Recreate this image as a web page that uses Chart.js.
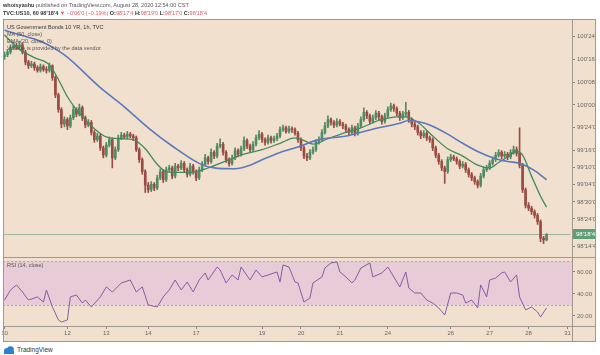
<!DOCTYPE html>
<html><head><meta charset="utf-8">
<script src="https://cdn.jsdelivr.net/npm/chart.js@4.4.1/dist/chart.umd.min.js"></script>
<style>
html,body{margin:0;padding:0;background:#fff;width:600px;height:355px;overflow:hidden;font-family:"Liberation Sans",Arial,sans-serif;}
#frame{position:absolute;left:3px;top:19px;width:593px;height:322px;background:#f2e0cf;}
canvas{position:absolute;}
.t{position:absolute;white-space:nowrap;font-size:5.5px;line-height:7px;color:#555;}
.ln{position:absolute;background:#a09890;}
.r{color:#e0575f;}
</style></head><body>
<div id="frame"></div>
<canvas id="c1" width="596" height="238" style="left:0;top:19px"></canvas>
<canvas id="c2" width="596" height="84" style="left:0;top:257px"></canvas>
<div class="ln" style="left:3px;top:19px;width:593px;height:1px"></div>
<div class="ln" style="left:3px;top:341px;width:593px;height:1px"></div>
<div class="ln" style="left:3px;top:19px;width:1px;height:323px"></div>
<div class="ln" style="left:595px;top:19px;width:1px;height:323px"></div>
<div class="ln" style="left:3px;top:257px;width:593px;height:1px"></div>
<div class="ln" style="left:3px;top:326px;width:593px;height:1px"></div>
<div class="ln" style="left:572px;top:19px;width:1px;height:323px"></div>

<div class="t" style="left:3px;top:2px"><b style="color:#333">whoisyashu</b> published on TradingView.com, August 28, 2020 12:54:00 CST</div>
<div class="t" style="left:3px;top:10px;color:#333"><b>TVC:US10, 60</b> <b>98'18'4</b> <span class="r">▼ −0'06'0 (−0.19%)</span> <b>O:</b><span class="r">98'17'4</span> <b>H:</b><span class="r">98'19'0</span> <b>L:</b><span class="r">98'17'0</span> <b>C:</b><span class="r">98'18'4</span></div>
<div class="t" style="left:7px;top:24px;color:#333">US Government Bonds 10 YR, 1h, TVC</div>
<div class="t" style="left:7px;top:31px">MA (50, close)</div>
<div class="t" style="left:7px;top:38px">EMA (20, close, 0)</div>
<div class="t" style="left:7px;top:45px">Volume is provided by the data vendor.</div>
<div class="t" style="left:7px;top:262px">RSI (14, close)</div>
<div style="position:absolute;left:3px;top:345px;height:9px;display:flex;align-items:center">
<svg width="12" height="8" viewBox="0 0 12 8"><circle cx="4" cy="5" r="3" fill="#2f7fd0"/><circle cx="7.5" cy="3.6" r="3.4" fill="#2f7fd0"/><rect x="1" y="5" width="10" height="3" fill="#2f7fd0"/></svg>
<span style="font-size:6.5px;color:#333;margin-left:2px">TradingView</span></div>

<script>
// ---------- data ----------
const open = [100.53,100.55,100.58,100.63,100.65,100.64,100.66,100.58,100.47,100.43,
100.45,100.41,100.38,100.42,100.39,100.38,100.43,100.30,100.11,99.95,
99.79,99.84,99.77,99.86,99.95,99.90,99.97,99.86,99.78,99.81,
99.70,99.62,99.66,99.53,99.45,99.56,99.62,99.42,99.51,99.64,
99.67,99.65,99.68,99.66,99.64,99.51,99.40,99.27,99.12,99.07,
99.13,99.09,99.20,99.27,99.18,99.29,99.31,99.22,99.33,99.31,
99.36,99.29,99.24,99.33,99.27,99.20,99.29,99.35,99.42,99.38,
99.48,99.44,99.55,99.57,99.48,99.40,99.36,99.42,99.50,99.46,
99.52,99.61,99.55,99.51,99.57,99.64,99.68,99.62,99.59,99.64,
99.61,99.63,99.66,99.73,99.75,99.71,99.74,99.73,99.69,99.62,
99.53,99.44,99.42,99.48,99.51,99.59,99.62,99.70,99.77,99.84,
99.81,99.78,99.82,99.79,99.77,99.73,99.70,99.75,99.69,99.77,
99.84,99.92,99.88,99.82,99.86,99.91,99.87,99.82,99.88,99.95,
99.99,99.96,99.91,99.86,99.90,99.92,99.84,99.79,99.76,99.70,
99.66,99.69,99.64,99.62,99.53,99.45,99.38,99.31,99.27,99.40,
99.43,99.41,99.38,99.33,99.35,99.29,99.24,99.20,99.16,99.12,
99.22,99.29,99.31,99.36,99.40,99.45,99.48,99.44,99.46,99.43,
99.48,99.51,99.47,99.34,99.07,98.90,98.87,98.83,98.79,98.72,
98.54,98.52];
const high = [100.58,100.61,100.66,100.69,100.68,100.70,100.68,100.60,100.49,100.48,
100.47,100.43,100.45,100.44,100.42,100.46,100.44,100.32,100.13,99.97,
99.87,99.86,99.89,99.99,99.97,100.01,99.99,99.88,99.84,99.83,
99.72,99.69,99.68,99.55,99.59,99.65,99.64,99.54,99.67,99.70,
99.69,99.71,99.70,99.68,99.66,99.53,99.42,99.29,99.15,99.16,
99.15,99.23,99.30,99.29,99.32,99.34,99.33,99.36,99.35,99.39,
99.38,99.31,99.36,99.35,99.29,99.32,99.38,99.46,99.44,99.52,
99.50,99.58,99.63,99.59,99.50,99.42,99.45,99.53,99.52,99.55,
99.65,99.63,99.57,99.60,99.67,99.72,99.70,99.64,99.67,99.66,
99.66,99.69,99.76,99.78,99.77,99.77,99.76,99.75,99.71,99.64,
99.55,99.47,99.51,99.54,99.62,99.65,99.73,99.81,99.88,99.86,
99.83,99.85,99.84,99.81,99.79,99.75,99.78,99.77,99.80,99.87,
99.97,99.94,99.90,99.89,99.94,99.93,99.89,99.91,99.98,100.02,
100.01,99.98,99.93,99.93,100.03,99.94,99.86,99.81,99.78,99.72,
99.72,99.71,99.66,99.64,99.55,99.47,99.40,99.33,99.43,99.46,
99.45,99.43,99.40,99.38,99.37,99.31,99.26,99.22,99.18,99.25,
99.32,99.34,99.39,99.43,99.48,99.51,99.50,99.49,99.48,99.51,
99.55,99.54,99.75,99.36,99.09,98.93,98.89,98.85,98.81,98.74,
98.56,98.59];
const low = [100.50,100.53,100.56,100.61,100.61,100.62,100.56,100.44,100.40,100.41,
100.38,100.36,100.36,100.37,100.35,100.36,100.27,100.08,99.92,99.75,
99.76,99.73,99.75,99.84,99.87,99.88,99.83,99.75,99.76,99.67,
99.59,99.60,99.50,99.42,99.43,99.54,99.31,99.40,99.49,99.62,
99.63,99.63,99.64,99.61,99.49,99.37,99.24,99.04,99.04,99.05,
99.06,99.07,99.18,99.15,99.16,99.27,99.19,99.20,99.28,99.29,
99.26,99.21,99.22,99.24,99.17,99.18,99.27,99.33,99.35,99.36,
99.41,99.42,99.53,99.45,99.37,99.33,99.34,99.40,99.43,99.44,
99.50,99.52,99.48,99.49,99.55,99.62,99.59,99.56,99.57,99.58,
99.59,99.61,99.64,99.71,99.69,99.69,99.70,99.67,99.59,99.50,
99.41,99.39,99.40,99.46,99.49,99.57,99.60,99.68,99.75,99.78,
99.75,99.76,99.77,99.74,99.70,99.67,99.68,99.66,99.67,99.75,
99.82,99.85,99.79,99.80,99.84,99.84,99.79,99.80,99.86,99.93,
99.93,99.88,99.83,99.84,99.87,99.81,99.76,99.73,99.67,99.63,
99.64,99.61,99.59,99.50,99.42,99.35,99.28,99.14,99.25,99.38,
99.39,99.35,99.30,99.31,99.26,99.21,99.17,99.13,99.09,99.10,
99.20,99.27,99.29,99.34,99.38,99.43,99.41,99.42,99.40,99.41,
99.46,99.44,99.31,99.04,98.87,98.84,98.80,98.76,98.69,98.50,
98.48,98.51];
const close = [100.55,100.58,100.63,100.65,100.64,100.66,100.58,100.47,100.43,100.45,
100.41,100.38,100.42,100.39,100.38,100.43,100.30,100.11,99.95,99.79,
99.84,99.77,99.86,99.95,99.90,99.97,99.86,99.78,99.81,99.70,
99.62,99.66,99.53,99.45,99.56,99.62,99.42,99.51,99.64,99.67,
99.65,99.68,99.66,99.64,99.51,99.40,99.27,99.12,99.07,99.13,
99.09,99.20,99.27,99.18,99.29,99.31,99.22,99.33,99.31,99.36,
99.29,99.24,99.33,99.27,99.20,99.29,99.35,99.42,99.38,99.48,
99.44,99.55,99.57,99.48,99.40,99.36,99.42,99.50,99.46,99.52,
99.61,99.55,99.51,99.57,99.64,99.68,99.62,99.59,99.64,99.61,
99.63,99.66,99.73,99.75,99.71,99.74,99.73,99.69,99.62,99.53,
99.44,99.42,99.48,99.51,99.59,99.62,99.70,99.77,99.84,99.81,
99.78,99.82,99.79,99.77,99.73,99.70,99.75,99.69,99.77,99.84,
99.92,99.88,99.82,99.86,99.91,99.87,99.82,99.88,99.95,99.99,
99.96,99.91,99.86,99.90,99.92,99.84,99.79,99.76,99.70,99.66,
99.69,99.64,99.62,99.53,99.45,99.38,99.31,99.27,99.40,99.43,
99.41,99.38,99.33,99.35,99.29,99.24,99.20,99.16,99.12,99.22,
99.29,99.31,99.36,99.40,99.45,99.48,99.44,99.46,99.43,99.48,
99.51,99.47,99.34,99.07,98.90,98.87,98.83,98.79,98.72,98.54,
98.52,98.58];

const ma50Idx = [0,5,12,20,32,40,48,56,65,70,77,82,86,92,98,105,114,120,125,132,135,139,142,148,153,158,164,168,172,177,181];
const ma50 = [100.82,100.77,100.70,100.55,100.19,99.98,99.75,99.55,99.36,99.31,99.30,99.34,99.40,99.48,99.54,99.62,99.66,99.71,99.75,99.80,99.83,99.81,99.78,99.68,99.58,99.49,99.41,99.38,99.36,99.28,99.18];

const ema20Idx = [0,2,5,10,15,18,21,26,30,34,39,43,47,51,54,59,64,68,75,80,86,92,97,100,103,108,114,119,125,131,134,138,143,148,153,158,162,165,168,171,173,176,179,181];
const ema20 = [100.77,100.70,100.61,100.52,100.44,100.28,100.09,99.87,99.74,99.65,99.63,99.62,99.52,99.35,99.27,99.26,99.27,99.31,99.40,99.46,99.51,99.58,99.64,99.61,99.57,99.63,99.70,99.75,99.83,99.87,99.87,99.81,99.66,99.52,99.44,99.34,99.31,99.37,99.43,99.49,99.45,99.22,99.00,98.88];

const rsiIdx = [0,2,4,6,8,11,13,14,16,18,19,21,22,24,26,27,29,32,34,36,39,42,44,46,48,51,53,55,57,59,61,63,65,67,68,71,72,74,76,78,79,82,84,86,88,91,92,93,95,97,98,100,102,103,106,107,109,111,112,114,116,117,119,122,123,126,128,130,132,134,135,137,139,141,143,145,147,149,151,153,154,156,158,159,161,162,164,166,167,169,171,172,174,176,178,179,181];
const rsi = [34.5,43.6,48.2,41.8,34.5,37.3,32.7,43.6,28.2,16.4,14.5,16.4,37.3,39.1,31.8,34.5,28.2,37.3,46.4,41.8,50.0,52.7,41.8,46.4,30.0,28.2,37.3,43.6,52.7,43.6,50.9,41.8,52.7,59.1,52.7,64.5,61.8,50.0,57.3,52.7,64.5,52.7,61.8,55.5,57.3,60.0,50.9,66.4,64.5,50.9,50.0,32.7,36.4,50.0,55.5,63.6,68.2,69.1,60.0,55.5,50.0,52.7,63.6,68.2,55.5,59.1,64.5,55.5,46.4,60.0,45.5,40.9,40.9,34.5,31.8,27.3,20.9,40.9,40.9,39.1,31.8,34.5,27.3,48.2,37.3,52.7,54.5,59.1,60.0,50.9,57.3,37.3,25.5,28.2,23.6,19.1,27.3];
const rsiBandLevels = [30, 70];

const dayIdx = [0,21,34,48,64,86,99,112,128,149,162,175,188];
const dayLabels = ["10","12","13","14","17","19","20","21","24","26","27","28","31"];

const priceTickValues = [100.75,100.5,100.25,100,99.75,99.5,99.3125,99.125,98.9375,98.75,98.453125];
const priceTickLabels = ["100'24'0","100'16'0","100'08'0","100'00'0","99'24'0","99'16'0","99'10'0","99'04'0","98'30'0","98'24'0","98'14'4"];
const rsiTickValues = [20, 40, 60];
const rsiTickLabels = ["20.00","40.00","60.00"];
const lastPriceLabel = "98'18'4";
const slotCount = 190;

// ---------- build ----------
const labels = Array.from({length: slotCount}, (_, i) => String(i));
const UP = '#4f8c62', DOWN = '#9a4c42';
const candleColor = ctx => (close[ctx.dataIndex] >= open[ctx.dataIndex] ? UP : DOWN);
const wickData = low.map((l, i) => [l, high[i]]);
const bodyData = open.map((o, i) => [Math.min(o, close[i]), Math.max(o, close[i])]);
const toPts = (idx, vals) => idx.map((i, k) => ({x: String(i), y: vals[k]}));
const last = close[close.length - 1];
const FONT = {family: '"Liberation Sans", Arial, sans-serif', size: 6};

function fixY(scale){ scale.width = 24; scale.paddingTop = 0; scale.paddingBottom = 0; }

const badge = {
  id: 'badge',
  afterDraw(chart){
    const {ctx, chartArea: a, scales: {y}} = chart;
    const py = y.getPixelForValue(last);
    ctx.save();
    ctx.fillStyle = '#5e9f77';
    ctx.fillRect(a.right + 1, Math.round(py) - 5, 22, 10);
    ctx.fillStyle = '#fff';
    ctx.font = '6px "Liberation Sans", Arial, sans-serif';
    ctx.textBaseline = 'middle';
    ctx.fillText(lastPriceLabel, a.right + 4, Math.round(py) + 0.5);
    ctx.restore();
  }
};

new Chart(document.getElementById('c1'), {
  data: {
    labels,
    datasets: [
      {type: 'line', data: [{x: '0', y: last}, {x: String(slotCount - 1), y: last}], borderColor: '#9fb1a2', borderWidth: 1, pointRadius: 0, order: 5},
      {type: 'bar', data: wickData, backgroundColor: candleColor, barThickness: 1, grouped: false, borderWidth: 0, order: 4},
      {type: 'bar', data: bodyData, backgroundColor: candleColor, barThickness: 2, grouped: false, borderWidth: 0, order: 3},
      {type: 'line', data: toPts(ema20Idx, ema20), borderColor: '#3f8a5c', borderWidth: 1.3, pointRadius: 0, spanGaps: true, cubicInterpolationMode: 'monotone', order: 2},
      {type: 'line', data: toPts(ma50Idx, ma50), borderColor: '#5b79bd', borderWidth: 1.6, pointRadius: 0, spanGaps: true, cubicInterpolationMode: 'monotone', order: 1}
    ]
  },
  options: {
    responsive: false, animation: false, events: [],
    layout: {padding: {left: 3, right: 0, top: 0, bottom: 0}},
    plugins: {legend: {display: false}, tooltip: {enabled: false}},
    scales: {
      x: {type: 'category', offset: true, display: false},
      y: {
        type: 'linear', position: 'right', min: 98.333, max: 100.943, bounds: 'data',
        afterBuildTicks: s => { s.ticks = priceTickValues.map(v => ({value: v})); },
        afterFit: fixY,
        grid: {drawOnChartArea: false, tickLength: 3, color: '#8a847e'},
        border: {display: false},
        ticks: {autoSkip: false, padding: 2, font: FONT, color: '#666',
          callback: v => priceTickLabels[priceTickValues.indexOf(v)]}
      }
    }
  },
  plugins: [badge]
});

const rsiBand = {
  id: 'rsiBand',
  beforeDatasetsDraw(chart){
    const {ctx, chartArea: a, scales: {y}} = chart;
    const t = Math.round(y.getPixelForValue(rsiBandLevels[1]));
    const b = Math.round(y.getPixelForValue(rsiBandLevels[0]));
    ctx.save();
    ctx.fillStyle = '#e7cbd6';
    ctx.fillRect(a.left, t, a.right - a.left, b - t);
    ctx.strokeStyle = '#bf9fb0'; ctx.lineWidth = 1; ctx.setLineDash([2, 2]);
    [t, b].forEach(yy => { ctx.beginPath(); ctx.moveTo(a.left, yy + 0.5); ctx.lineTo(a.right, yy + 0.5); ctx.stroke(); });
    ctx.restore();
  }
};

new Chart(document.getElementById('c2'), {
  type: 'line',
  data: {
    labels,
    datasets: [
      {data: toPts(rsiIdx, rsi), borderColor: '#8a5aa8', borderWidth: 1, pointRadius: 0, tension: 0, spanGaps: true}
    ]
  },
  options: {
    responsive: false, animation: false, events: [],
    layout: {padding: {left: 3, right: 0, top: 0, bottom: 0}},
    plugins: {legend: {display: false}, tooltip: {enabled: false}},
    scales: {
      x: {
        type: 'category', offset: true,
        afterBuildTicks: s => { s.ticks = dayIdx.map(v => ({value: v})); },
        afterFit: s => { s.height = 15; s.paddingLeft = 0; s.paddingRight = 0; },
        grid: {drawOnChartArea: false, tickLength: 3, color: '#8a847e'},
        border: {display: false},
        ticks: {autoSkip: false, maxRotation: 0, padding: 1, font: FONT, color: '#666',
          callback: v => dayLabels[dayIdx.indexOf(v)]}
      },
      y: {
        type: 'linear', position: 'right', min: 10.9, max: 73.6, bounds: 'data',
        afterBuildTicks: s => { s.ticks = rsiTickValues.map(v => ({value: v})); },
        afterFit: fixY,
        grid: {drawOnChartArea: false, tickLength: 3, color: '#8a847e'},
        border: {display: false},
        ticks: {autoSkip: false, padding: 2, font: FONT, color: '#666',
          callback: v => rsiTickLabels[rsiTickValues.indexOf(v)]}
      }
    }
  },
  plugins: [rsiBand]
});
</script>
</body></html>
